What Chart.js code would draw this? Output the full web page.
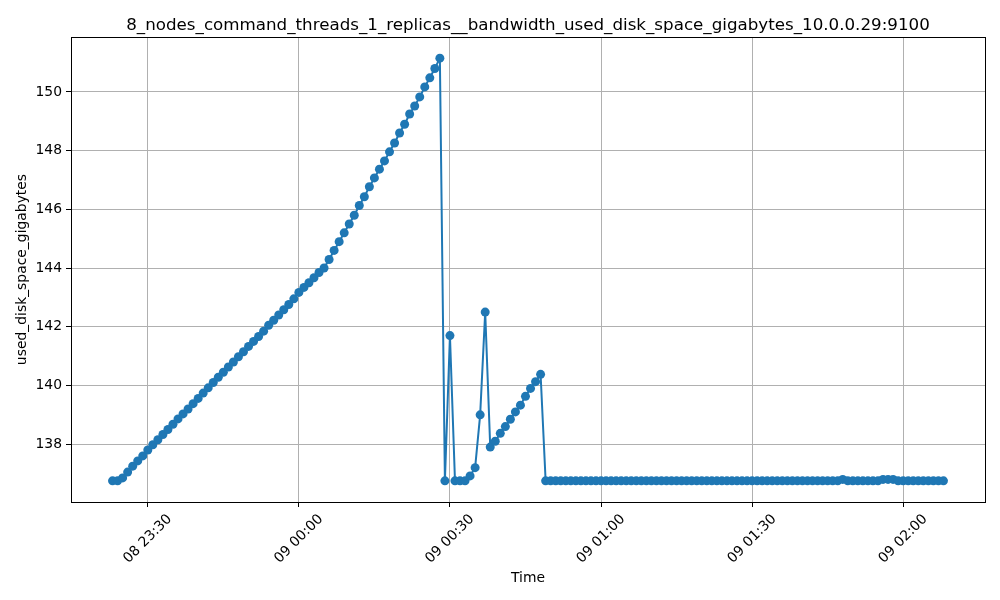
<!DOCTYPE html>
<html>
<head>
<meta charset="utf-8">
<script src="https://cdn.jsdelivr.net/npm/chart.js@4/dist/chart.umd.min.js"></script>
<style>
  html, body { margin: 0; padding: 0; background: #fff; }
</style>
</head>
<body>
<canvas id="myChart" width="1000" height="600"></canvas>
<script>
// minutes after 08 23:00, one sample per minute starting at 23:23
const startMinute = 23;
const stepMinutes = 1;

// used_disk_space_gigabytes
const risingPart = [
    136.75, 136.75, 136.85, 137.05, 137.25, 137.43, 137.6, 137.8, 137.98, 138.15,
    138.33, 138.5, 138.68, 138.86, 139.03, 139.2, 139.38, 139.56, 139.74, 139.92,
    140.1, 140.28, 140.45, 140.63, 140.8, 140.98, 141.15, 141.33, 141.5, 141.67,
    141.85, 142.05, 142.22, 142.4, 142.58, 142.76, 142.95, 143.17, 143.34, 143.5,
    143.67, 143.85, 144.0, 144.29, 144.6, 144.9, 145.2, 145.5, 145.8, 146.13,
    146.43, 146.77, 147.07, 147.37, 147.65, 147.96, 148.26, 148.6, 148.9, 149.25,
    149.52, 149.83, 150.17, 150.48, 150.8, 151.15
];
const middlePart = [
    136.75, 141.7, 136.75, 136.75, 136.75, 136.92, 137.2, 139.0, 142.5, 137.9,
    138.1, 138.37, 138.6, 138.85, 139.1, 139.33, 139.63, 139.9, 140.13, 140.38
];
const flatPart = [
    136.75, 136.75, 136.75, 136.75, 136.75, 136.75, 136.75, 136.75, 136.75, 136.75,
    136.75, 136.75, 136.75, 136.75, 136.75, 136.75, 136.75, 136.75, 136.75, 136.75,
    136.75, 136.75, 136.75, 136.75, 136.75, 136.75, 136.75, 136.75, 136.75, 136.75,
    136.75, 136.75, 136.75, 136.75, 136.75, 136.75, 136.75, 136.75, 136.75, 136.75,
    136.75, 136.75, 136.75, 136.75, 136.75, 136.75, 136.75, 136.75, 136.75, 136.75,
    136.75, 136.75, 136.75, 136.75, 136.75, 136.75, 136.75, 136.75, 136.75, 136.8,
    136.75, 136.75, 136.75, 136.75, 136.75, 136.75, 136.75, 136.8, 136.8, 136.8,
    136.75, 136.75, 136.75, 136.75, 136.75, 136.75, 136.75, 136.75, 136.75, 136.75
];
const values = risingPart.concat(middlePart, flatPart);

const xTickValues = [30, 60, 90, 120, 150, 180];
const xTickLabels = ["08 23:30", "09 00:00", "09 00:30", "09 01:00", "09 01:30", "09 02:00"];
const yTickValues = [138, 140, 142, 144, 146, 148, 150];

const points = values.map((v, i) => ({ x: startMinute + i * stepMinutes, y: v }));

// matplotlib style 5% margins
const xFirst = points[0].x, xLast = points[points.length - 1].x;
const yLow = Math.min(...values), yHigh = Math.max(...values);
const xPad = (xLast - xFirst) * 0.05, yPad = (yHigh - yLow) * 0.05;

Chart.defaults.font.family = "'DejaVu Sans', sans-serif";
Chart.defaults.color = '#000';

// full box around the plot area
const frame = {
    id: 'frame',
    afterDatasetsDraw(chart) {
        const a = chart.chartArea, ctx = chart.ctx;
        ctx.save();
        ctx.strokeStyle = '#000';
        ctx.lineWidth = 1;
        ctx.strokeRect(Math.round(a.left) + 0.5, Math.round(a.top) + 0.5,
            Math.round(a.right - a.left), Math.round(a.bottom - a.top));
        ctx.restore();
    }
};

const ctx = document.getElementById('myChart');
new Chart(ctx, {
    type: 'line',
    data: {
        datasets: [{
            label: 'used_disk_space_gigabytes',
            data: points,
            borderColor: '#1f77b4',
            backgroundColor: '#1f77b4',
            borderWidth: 2,
            pointRadius: 4.5,
            pointBorderWidth: 0,
            pointBackgroundColor: '#1f77b4',
            tension: 0
        }]
    },
    plugins: [frame],
    options: {
        responsive: false,
        animation: false,
        layout: { padding: { left: 0, right: 15, top: 0, bottom: 0 } },
        plugins: {
            legend: { display: false },
            tooltip: { enabled: false },
            title: {
                display: true,
                fullSize: false,
                text: '8_nodes_command_threads_1_replicas__bandwidth_used_disk_space_gigabytes_10.0.0.29:9100',
                font: { size: 16.7, weight: 'normal' },
                color: '#000',
                padding: { top: 16, bottom: 1 }
            }
        },
        scales: {
            x: {
                type: 'linear',
                min: xFirst - xPad,
                max: xLast + xPad,
                afterBuildTicks(scale) {
                    scale.ticks = xTickValues.map(v => ({ value: v }));
                },
                afterFit(scale) { scale.height = 98; },
                ticks: {
                    minRotation: 45,
                    maxRotation: 45,
                    labelOffset: 22,
                    padding: 4,
                    font: { size: 13.9 },
                    callback: (v) => xTickLabels[xTickValues.indexOf(v)]
                },
                grid: { color: '#b0b0b0', lineWidth: 1, tickColor: '#000', tickLength: 5 },
                border: { display: false },
                title: { display: true, text: 'Time', font: { size: 13.9 }, padding: { top: 4, bottom: 13 } }
            },
            y: {
                min: yLow - yPad,
                max: yHigh + yPad,
                afterBuildTicks(scale) {
                    scale.ticks = yTickValues.map(v => ({ value: v }));
                },
                afterFit(scale) { scale.width = 71; },
                ticks: { font: { size: 13.9 }, padding: 4 },
                grid: { color: '#b0b0b0', lineWidth: 1, tickColor: '#000', tickLength: 5 },
                border: { display: false },
                title: { display: true, text: 'used_disk_space_gigabytes', font: { size: 13.9 }, padding: { top: 14, bottom: 4 } }
            }
        }
    }
});
</script>
</body>
</html>
